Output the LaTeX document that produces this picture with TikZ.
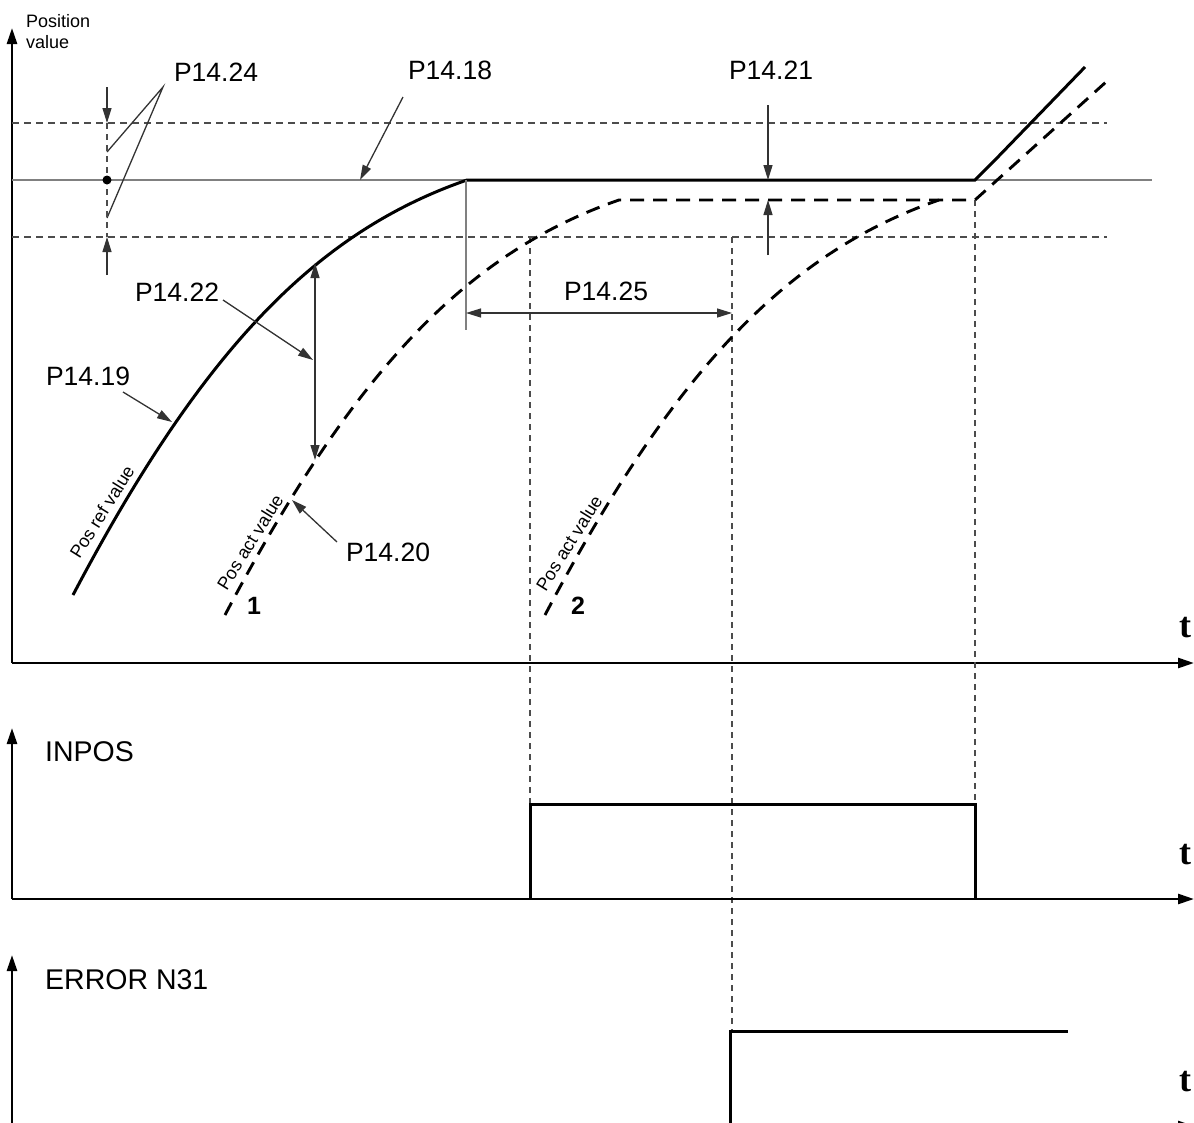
\documentclass[tikz,border=0pt]{standalone}
\usepackage{fontspec}
\setmainfont{Liberation Sans}
\newfontfamily\tfont{Liberation Serif}
\usetikzlibrary{arrows.meta}
\definecolor{refgrey}{gray}{0.5}
\definecolor{leadgrey}{gray}{0.2}
\definecolor{wingrey}{gray}{0.3}
\begin{document}
\begin{tikzpicture}[x=1pt,y=-1pt,
  axisline/.style={line width=2.6pt, black, -{Triangle[length=16pt,width=10pt]}},
  curveref/.style={line width=3pt, black},
  curveact/.style={line width=2.9pt, black, dash pattern=on 14pt off 9pt},
  signal/.style={line width=3pt, black},
  refline/.style={line width=1.8pt, refgrey},
  winline/.style={line width=1.3pt, wingrey, dash pattern=on 7pt off 5pt},
  timeline/.style={line width=1.3pt, wingrey, dash pattern=on 6pt off 5pt},
  leader/.style={line width=1.3pt, leadgrey, -{Triangle[length=15pt,width=9pt]}},
  dimline/.style={line width=1.3pt, leadgrey, {Triangle[length=15pt,width=9pt]}-{Triangle[length=15pt,width=9pt]}},
  plainlead/.style={line width=1.3pt, leadgrey},
  plabel/.style={inner sep=0pt, font=\fontsize{26.5}{31}\selectfont},
  siglabel/.style={inner sep=0pt, font=\fontsize{28.5}{34}\selectfont, anchor=west},
  smalllabel/.style={inner sep=0pt, font=\fontsize{18}{21}\selectfont, anchor=base west},
  rotlabel/.style={inner sep=0pt, font=\fontsize{18}{21}\selectfont, rotate=58},
  numlabel/.style={inner sep=0pt, font=\bfseries\fontsize{25}{30}\selectfont},
  tlabel/.style={inner sep=0pt, font=\tfont\bfseries\fontsize{36}{40}\selectfont}
]
\useasboundingbox (0,0) rectangle (1194,1122);

% ---------- main axes ----------
\coordinate (o1) at (12,663);
\coordinate (ytop1) at (12,28);
\coordinate (xend1) at (1194,663);
\draw[axisline] (o1) -- (ytop1);
\draw[axisline] (o1) -- (xend1);
\node[smalllabel] (posl1) at (26,27) {Position};
\node[smalllabel] (posl2) at (26,48) {value};
\node[tlabel] (t1) at (1185,628) {t};

% ---------- window and reference lines ----------
\coordinate (wu0) at (12,123);
\coordinate (wu1) at (1107,123);
\coordinate (wl0) at (12,237);
\coordinate (wl1) at (1107,237);
\draw[winline] (wu0) -- (wu1);
\draw[winline] (wl0) -- (wl1);
\coordinate (r0) at (12,180);
\coordinate (r1) at (1152,180);
\draw[refline] (r0) -- (r1);

% ---------- time marks ----------
\coordinate (tA) at (530,237);
\coordinate (tAb) at (530,804);
\coordinate (tB) at (732,237);
\coordinate (tBb) at (732,1031);
\coordinate (tC) at (975,200);
\coordinate (tCb) at (975,804);
\draw[timeline] (tA) -- (tAb);
\draw[timeline] (tB) -- (tBb);
\draw[timeline] (tC) -- (tCb);

% ---------- reference curve ----------
\coordinate (refstart) at (73,595);
\coordinate (refend) at (467,180);
\coordinate (flatend) at (975,180);
\coordinate (riseend) at (1085,67);
\draw[curveref] (refstart) .. controls (203,348) and (317,232) .. (refend) -- (flatend) .. controls (984,171) .. (995,160) -- (riseend);

% ---------- actual curves ----------
\coordinate (act1start) at (225,615);
\coordinate (act1end) at (619,200);
\coordinate (actflat) at (975,200);
\coordinate (actrise) at (1106,82);
\draw[curveact] (act1start) .. controls (355,368) and (469,252) .. (act1end) -- (actflat) -- (actrise);
\coordinate (act2start) at (545,615);
\coordinate (act2end) at (939,200);
\draw[curveact] (act2start) .. controls (675,368) and (789,252) .. (act2end);

% ---------- rotated labels ----------
\node[rotlabel] (lref) at (102,512) {Pos ref value};
\node[rotlabel] (lact1) at (250,542) {Pos act value};
\node[rotlabel] (lact2) at (569,543) {Pos act value};
\node[numlabel] (n1) at (254,606) {1};
\node[numlabel] (n2) at (578,606) {2};

% ---------- P14.24 ----------
\node[plabel] (p1424) at (216,72) {P14.24};
\coordinate (apex24) at (163,87);
\coordinate (e24a) at (107,152);
\coordinate (e24b) at (107,218);
\draw[plainlead] (e24a) -- (apex24) -- (e24b);
\coordinate (a24s) at (107,87);
\coordinate (a24t) at (107,123);
\coordinate (b24s) at (107,275);
\coordinate (b24t) at (107,237);
\draw[leader] (a24s) -- (a24t);
\draw[leader] (b24s) -- (b24t);
\draw[timeline] (a24t) -- (b24t);
\fill (107,180) circle (4.5pt);

% ---------- P14.18 ----------
\node[plabel] (p1418) at (450,70) {P14.18};
\coordinate (s18) at (403,97);
\coordinate (t18) at (360,180);
\draw[leader] (s18) -- (t18);

% ---------- P14.21 ----------
\node[plabel] (p1421) at (771,70) {P14.21};
\coordinate (s21a) at (768,105);
\coordinate (t21a) at (768,180);
\coordinate (s21b) at (768,255);
\coordinate (t21b) at (768,200);
\draw[leader] (s21a) -- (t21a);
\draw[leader] (s21b) -- (t21b);

% ---------- P14.25 ----------
\coordinate (v25a) at (466,180);
\coordinate (v25b) at (466,330);
\draw[line width=1.5pt, refgrey] (v25a) -- (v25b);
\coordinate (d25a) at (466,313);
\coordinate (d25b) at (732,313);
\draw[dimline] (d25a) -- (d25b);
\node[plabel] (p1425) at (606,291) {P14.25};

% ---------- P14.22 ----------
\coordinate (d22a) at (315,263);
\coordinate (d22b) at (315,460);
\draw[dimline] (d22a) -- (d22b);
\node[plabel] (p1422) at (177,292) {P14.22};
\coordinate (s22) at (223,300);
\coordinate (t22) at (313,360);
\draw[leader] (s22) -- (t22);

% ---------- P14.19 ----------
\node[plabel] (p1419) at (88,376) {P14.19};
\coordinate (s19) at (123,392);
\coordinate (t19) at (172,422);
\draw[leader] (s19) -- (t19);

% ---------- P14.20 ----------
\node[plabel] (p1420) at (388,552) {P14.20};
\coordinate (s20) at (337,542);
\coordinate (t20) at (292,500);
\draw[leader] (s20) -- (t20);

% ---------- INPOS ----------
\coordinate (o2) at (12,899);
\coordinate (ytop2) at (12,728);
\coordinate (xend2) at (1194,899);
\draw[axisline] (o2) -- (ytop2);
\draw[axisline] (o2) -- (xend2);
\node[siglabel] (inpos) at (45,752) {INPOS};
\node[tlabel] (t2) at (1185,855) {t};
\coordinate (ip0) at (530,899);
\coordinate (ip1) at (530,804);
\coordinate (ip2) at (975,804);
\coordinate (ip3) at (975,899);
\draw[signal] (ip0) -- (ip1) -- (ip2) -- (ip3);

% ---------- ERROR N31 ----------
\coordinate (o3) at (12,1126);
\coordinate (ytop3) at (12,955);
\coordinate (xend3) at (1194,1126);
\draw[axisline] (o3) -- (ytop3);
\draw[axisline] (o3) -- (xend3);
\node[siglabel] (err) at (45,980) {ERROR N31};
\node[tlabel] (t3) at (1185,1082) {t};
\coordinate (er0) at (730,1126);
\coordinate (er1) at (730,1031);
\coordinate (er2) at (1068,1031);
\draw[signal] (er0) -- (er1) -- (er2);
\end{tikzpicture}
\end{document}
